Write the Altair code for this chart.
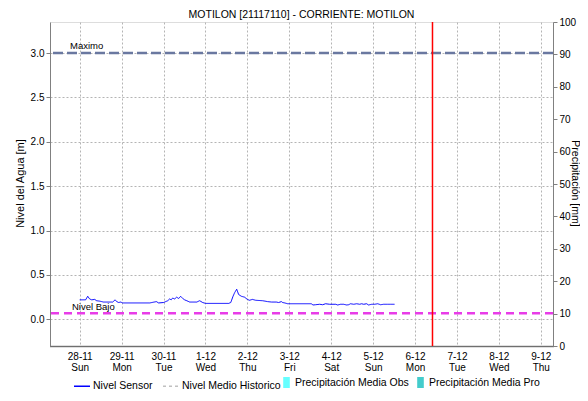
import altair as alt
import pandas as pd

# ---- data ----
title_text = "MOTILON [21117110] - CORRIENTE: MOTILON"
series_start = "2021-11-28 00:00"
level_hours = [0, 1.7, 3.4, 4.6, 5.7, 6.9, 8.6, 9.7, 11.5, 13.7, 18.9, 20.3, 21.2, 22.3, 23.5, 24.6,
               40.1, 43.9, 45.2, 48.1, 49.2, 50.4, 51.5, 52.4, 53.2, 54.4, 55.5, 56.7, 57.8, 59.0,
               60.1, 61.3, 63.0, 67.0, 68.7, 70.4, 72.1, 85.3, 86.5, 87.8, 88.7, 89.9, 91.0, 92.6,
               94.4, 96.0, 97.2, 98.9, 100.8, 104.8, 107.6, 109.9, 112.6, 113.9, 115.5, 116.2,
               117.4, 119.1, 132.6, 133.6, 135.1, 137.4, 139.1, 140.8, 143.1, 146.6, 147.7, 149.4,
               151.1, 152.9, 154.0, 155.1, 156.9, 158.6, 160.3, 161.4, 162.6, 164.3, 165.4, 167.2,
               168.9, 170.6, 172.3, 174.0, 176.3, 178.0, 180.3]
level_values = [0.22, 0.22, 0.22, 0.26, 0.23, 0.22, 0.225, 0.21, 0.205, 0.195, 0.195, 0.22, 0.2,
                0.19, 0.195, 0.185, 0.185, 0.2, 0.185, 0.19, 0.2, 0.21, 0.23, 0.22, 0.24, 0.23,
                0.25, 0.235, 0.26, 0.235, 0.22, 0.21, 0.195, 0.195, 0.21, 0.19, 0.18, 0.18, 0.19,
                0.26, 0.30, 0.34, 0.28, 0.26, 0.25, 0.225, 0.215, 0.225, 0.215, 0.21, 0.2, 0.195,
                0.195, 0.19, 0.2, 0.19, 0.185, 0.176, 0.176, 0.162, 0.165, 0.17, 0.165, 0.176,
                0.17, 0.17, 0.162, 0.17, 0.17, 0.162, 0.165, 0.176, 0.17, 0.176, 0.17, 0.176,
                0.17, 0.176, 0.162, 0.17, 0.17, 0.176, 0.165, 0.17, 0.17, 0.17, 0.17]
line_series = ["Nivel Sensor", "Nivel Medio Historico"]
line_colors = ["#0000ff", "#c0c0c0"]
precip_series = ["Precipitación Media Obs", "Precipitación Media Pro"]
precip_colors = ["#66ffff", "#44cccc"]
maximo_value = 3.0
bajo_value = 0.07
now_time = "2021-12-06 10:00"
level_ticks = [0.0, 0.5, 1.0, 1.5, 2.0, 2.5, 3.0]
precip_ticks = [0, 10, 20, 30, 40, 50, 60, 70, 80, 90, 100]
day_ticks = ["2021-11-28", "2021-11-29", "2021-11-30", "2021-12-01", "2021-12-02", "2021-12-03",
             "2021-12-04", "2021-12-05", "2021-12-06", "2021-12-07", "2021-12-08", "2021-12-09"]

FONT = "Liberation Sans"

t0 = pd.Timestamp(series_start)
level_df = pd.DataFrame({
    "t": [(t0 + pd.Timedelta(hours=h)).strftime("%Y-%m-%dT%H:%M") for h in level_hours],
    "v": level_values,
    "serie": "Nivel Sensor",
})


def dt(s):
    ts = pd.Timestamp(s)
    return alt.DateTime(year=ts.year, month=ts.month, date=ts.day, hours=ts.hour, minutes=ts.minute)


x_scale = alt.Scale(domain=[dt("2021-11-27 07:00"), dt("2021-12-09 07:00")], nice=False, padding=0)
y_scale = alt.Scale(domain=[-0.3, 3.35], nice=False, zero=False, padding=0)

x_axis = alt.Axis(
    title=None, values=[dt(d) for d in day_ticks],
    labelExpr="[timeFormat(datum.value, '%-d-%m'), timeFormat(datum.value, '%a')]",
    labelFont=FONT, labelFontSize=10, labelColor="#000000", labelLineHeight=11,
    labelPadding=5, ticks=False,
    grid=True, gridColor="#b4b4b4", gridDash=[2, 2], gridWidth=1,
    domainColor="#000000", domainDash=[1, 1], domainWidth=1.5,
)
y_axis = alt.Axis(
    title="Nivel del Agua [m]", values=level_ticks, format=".1f",
    labelFont=FONT, labelFontSize=10, labelColor="#000000", labelPadding=2,
    tickSize=4, tickColor="#808080",
    grid=True, gridColor="#b4b4b4", gridDash=[2, 2],
    domainColor="#808080", titleFont=FONT, titleFontSize=11, titleFontWeight="normal",
    titleColor="#000000", titleX=-30, titleY=161, titleAngle=-90, titleAlign="center",
    titleBaseline="middle",
)

level_line = alt.Chart(level_df).mark_line(strokeWidth=1).encode(
    x=alt.X("t:T", scale=x_scale, axis=x_axis),
    y=alt.Y("v:Q", scale=y_scale, axis=y_axis),
    color=alt.Color("serie:N", scale=alt.Scale(domain=line_series, range=line_colors),
                    legend=alt.Legend(title=None, orient="none", legendX=23, legendY=355,
                                      direction="horizontal", symbolType="stroke",
                                      symbolSize=256, symbolStrokeWidth=1.5,
                                      labelFont=FONT, labelFontSize=10.5, labelColor="#000000",
                                      labelOffset=2, columnPadding=7)),
    strokeDash=alt.StrokeDash("serie:N", scale=alt.Scale(domain=line_series, range=[[1, 0], [3, 3]]),
                              legend=alt.Legend(title=None, orient="none", legendX=23, legendY=355,
                                                direction="horizontal")),
)

max_df = pd.DataFrame({"v": [maximo_value], "label": ["Maximo"]})
bajo_df = pd.DataFrame({"v": [bajo_value], "label": ["Nivel Bajo"]})

max_rule = alt.Chart(max_df).mark_rule(color="#6a78a0", strokeWidth=2.5, strokeDash=[10, 4]).encode(
    y=alt.Y("v:Q", scale=y_scale))
bajo_rule = alt.Chart(bajo_df).mark_rule(color="#e83ce8", strokeWidth=2.5, strokeDash=[8, 5]).encode(
    y=alt.Y("v:Q", scale=y_scale))
max_text = alt.Chart(max_df).mark_text(align="left", baseline="bottom", dy=-2, font=FONT,
                                       fontSize=9.5, color="#000000").encode(
    x=alt.value(20), y=alt.Y("v:Q", scale=y_scale), text="label:N")
bajo_text = alt.Chart(bajo_df).mark_text(align="left", baseline="bottom", dy=-1, font=FONT,
                                         fontSize=9.5, color="#000000").encode(
    x=alt.value(22), y=alt.Y("v:Q", scale=y_scale), text="label:N")

now_df = pd.DataFrame({"t": [pd.Timestamp(now_time).strftime("%Y-%m-%dT%H:%M")]})
now_rule = alt.Chart(now_df).mark_rule(color="#ff0000", strokeWidth=1.5).encode(
    x=alt.X("t:T", scale=x_scale))

left = alt.layer(level_line, max_rule, bajo_rule, max_text, bajo_text, now_rule)

precip = alt.Chart(alt.InlineData(values=[{"t": None, "p": None, "serie": None}])).mark_bar().transform_filter(
    "datum.p != null").encode(
    x=alt.X("t:T", scale=x_scale),
    y=alt.Y("p:Q", scale=alt.Scale(domain=[0, 100], nice=False, padding=0),
            axis=alt.Axis(orient="right", title="Precipitación [mm]", values=precip_ticks,
                          labelFont=FONT, labelFontSize=10, labelColor="#000000", labelPadding=2,
                          tickSize=4, tickColor="#808080", grid=False, domainColor="#808080",
                          titleFont=FONT, titleFontSize=10.5, titleFontWeight="normal",
                          titleColor="#000000", titleX=21, titleY=161, titleAngle=90,
                          titleAlign="center", titleBaseline="middle")),
    fill=alt.Fill("serie:N", scale=alt.Scale(domain=precip_series, range=precip_colors),
                  legend=alt.Legend(title=None, orient="none", legendX=231, legendY=355,
                                    direction="horizontal",
                                    symbolType="M-0.6,-1H0.6V1H-0.6Z", symbolSize=121,
                                    symbolStrokeWidth=0,
                                    labelFont=FONT, labelFontSize=10.5, labelColor="#000000",
                                    labelOffset=3, columnPadding=6)),
)

chart = alt.layer(left, precip).resolve_scale(y="independent").properties(
    width=503, height=324,
    autosize=alt.AutoSizeParams(type="none"),
    padding={"left": 42, "top": 14, "right": 27, "bottom": 46},
    title=alt.TitleParams(title_text, font=FONT, fontSize=10.5, fontWeight="normal",
                          color="#000000", offset=2, dy=5, anchor="middle"),
).configure_view(stroke="#808080").configure(background="#ffffff")

chart.save("out.html", embed_options={"renderer": "svg", "actions": False})
